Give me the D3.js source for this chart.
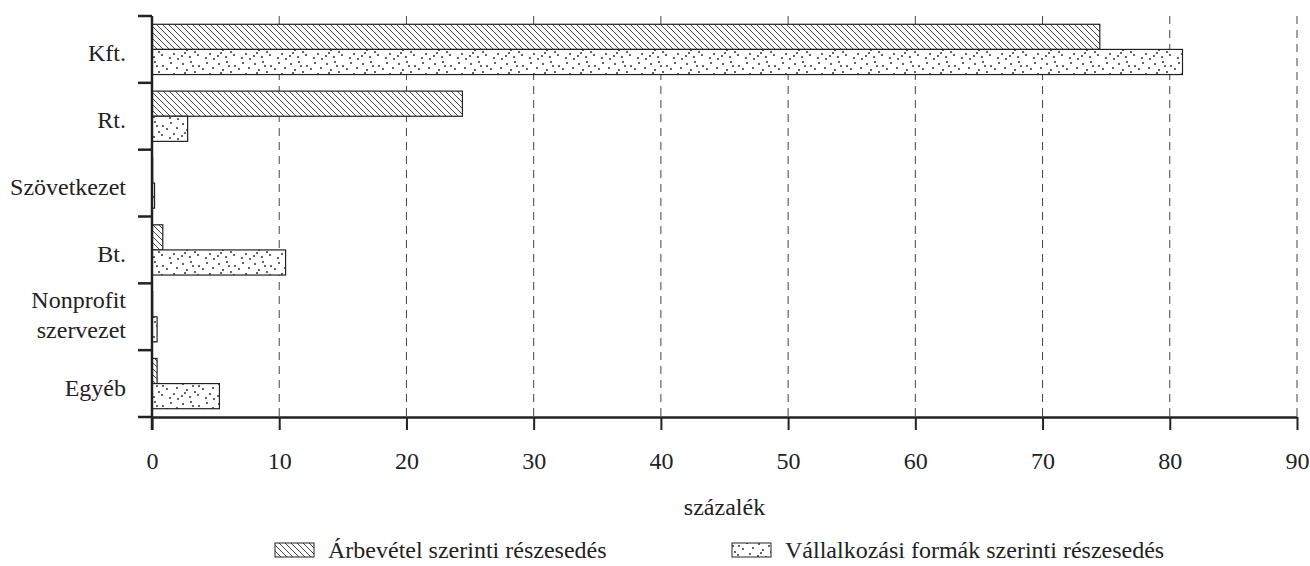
<!DOCTYPE html>
<html><head><meta charset="utf-8">
<script src="https://cdn.jsdelivr.net/npm/d3@7"></script>
<style>body{margin:0;background:#fff}svg{display:block}text{font-family:"Liberation Serif","Times New Roman",serif;fill:#222}</style>
</head><body><svg id="c" width="1310" height="566"></svg>
<script>
const categories = ["Kft.", "Rt.", "Szövetkezet", "Bt.", "Nonprofit\nszervezet", "Egyéb"];
const revenueShare = [74.5, 24.4, 0.05, 0.85, 0.05, 0.4];
const formShare = [81.0, 2.8, 0.2, 10.5, 0.4, 5.3];
const seriesNames = ["Árbevétel szerinti részesedés", "Vállalkozási formák szerinti részesedés"];
const xTicks = [0,10,20,30,40,50,60,70,80,90];
const xTitle = "százalék";

const FONT = "'Liberation Serif','Times New Roman',serif";
const FS = "24px";
const svg = d3.select("#c");
const L = 152, R = 1297, T = 16, B = 417;
const x = d3.scaleLinear().domain([0,90]).range([L,R]);
const y = d3.scaleBand().domain(categories).range([T,B]).paddingInner(0).paddingOuter(0);
const inner = d3.scaleBand().domain([0,1]).range([0,y.bandwidth()]).paddingOuter(0.33).paddingInner(0);

const defs = svg.append("defs");
const ph = defs.append("pattern").attr("id","hatch").attr("patternUnits","userSpaceOnUse").attr("width",6).attr("height",6);
ph.append("rect").attr("width",6).attr("height",6).attr("fill","#fff");
ph.append("path").attr("d","M-1,-1 L7,7 M-1,5 L1,7 M5,-1 L7,1").attr("stroke","#333").attr("stroke-width",0.9);
const pd = defs.append("pattern").attr("id","dots").attr("patternUnits","userSpaceOnUse").attr("width",36).attr("height",20);
pd.append("rect").attr("width",36).attr("height",20).attr("fill","#fff");
const dotPos = [[3,4],[11,2],[19,6],[27,3],[33,8],[7,10],[15,12],[23,9],[30,14],[2,16],[10,17],[18,15],[26,18],[34,19],[13,6],[5,13]];
dotPos.forEach(p=>pd.append("circle").attr("cx",p[0]).attr("cy",p[1]).attr("r",0.95).attr("fill","#222"));

// grid
svg.append("g").selectAll("line").data(xTicks.slice(1)).join("line")
  .attr("x1",d=>x(d)).attr("x2",d=>x(d)).attr("y1",T).attr("y2",B)
  .attr("stroke","#444").attr("stroke-width",1).attr("stroke-dasharray","8,6");

// bars
const series = [revenueShare, formShare];
const fills = ["url(#hatch)","url(#dots)"];
series.forEach((vals,si)=>{
  svg.append("g").selectAll("rect").data(vals).join("rect")
    .attr("x",x(0)).attr("y",(d,i)=>y(categories[i])+inner(si))
    .attr("width",d=>x(d)-x(0)).attr("height",inner.bandwidth())
    .attr("fill",fills[si]).attr("stroke","#222").attr("stroke-width",1.2);
});

// x axis
const xa = svg.append("g").attr("transform",`translate(0,${B})`)
  .call(d3.axisBottom(x).tickValues(xTicks).tickSize(13).tickSizeOuter(0).tickPadding(0));
xa.select(".domain").attr("stroke","#222").attr("stroke-width",2.5);
xa.selectAll(".tick line").attr("stroke","#222").attr("stroke-width",2);
xa.selectAll("text").attr("dy",null).attr("y",52).attr("font-family",FONT).style("font-family",FONT).style("font-size",FS).attr("fill","#222");

// y axis
const yEdges = categories.map(c=>y(c)).concat([B]);
svg.append("line").attr("x1",L).attr("x2",L).attr("y1",T).attr("y2",B+13).attr("stroke","#222").attr("stroke-width",2.5);
svg.append("g").selectAll("line").data(yEdges).join("line")
  .attr("x1",L-14).attr("x2",L).attr("y1",d=>d).attr("y2",d=>d).attr("stroke","#222").attr("stroke-width",2.5);
const lab = svg.append("g").selectAll("text").data(categories).join("text")
  .attr("text-anchor","end").style("font-size",FS).style("font-family",FONT)
  .attr("x",L-26);
lab.each(function(c){
  const lines = c.split("\n");
  const cy = y(c)+y.bandwidth()/2;
  const t = d3.select(this);
  lines.forEach((ln,i)=>{
    const off = lines.length===1 ? 12 : (i===0 ? -9 : 21);
    t.append("tspan").attr("x",L-26).attr("y",cy + off).text(ln);
  });
});

// x title
svg.append("text").attr("x",L+(R-L)/2).attr("y",515).attr("text-anchor","middle").style("font-size",FS).style("font-family",FONT).text(xTitle);

// legend
const legX = [275, 732];
seriesNames.forEach((n,i)=>{
  svg.append("rect").attr("x",legX[i]).attr("y",543).attr("width",39).attr("height",14)
    .attr("fill",fills[i]).attr("stroke","#222").attr("stroke-width",1);
  svg.append("text").attr("x",legX[i]+53).attr("y",558).style("font-size",FS).style("font-family",FONT).text(n);
});
</script></body></html>
